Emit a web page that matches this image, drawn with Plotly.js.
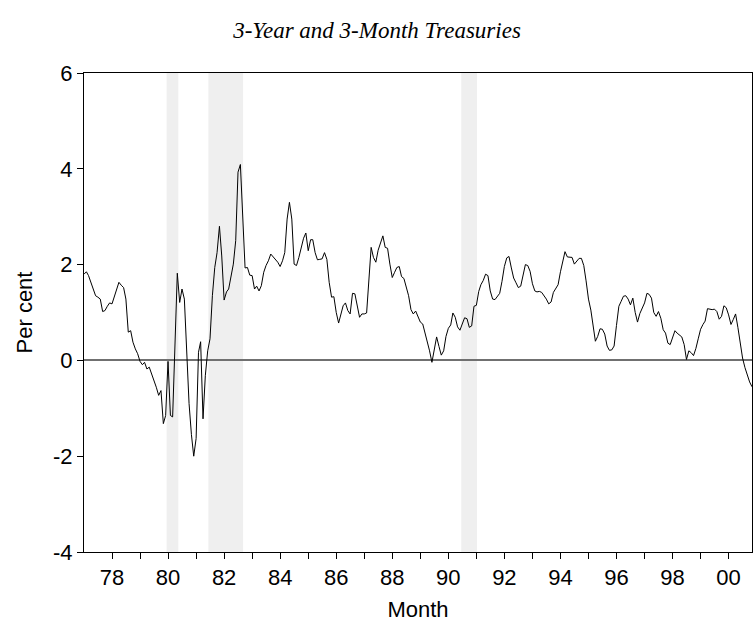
<!DOCTYPE html>
<html>
<head>
<meta charset="utf-8">
<script src="https://cdn.plot.ly/plotly-3.0.1.min.js"></script>
<style>html,body{margin:0;padding:0;background:#fff;}#chart{width:754px;height:629px;}</style>
</head>
<body>
<div id="chart"></div>
<script>
// Monthly spread, 3-year minus 3-month Treasury yield (per cent), 1977M01 onward
const startYear = 1977;
const spread = [
 1.80, 1.85, 1.77, 1.63, 1.49, 1.35, 1.32, 1.28, 1.02, 1.04, 1.13, 1.20,
 1.18, 1.32, 1.49, 1.63, 1.57, 1.52, 1.28, 0.59, 0.62, 0.38, 0.24, 0.14,
 -0.02, -0.09, -0.04, -0.18, -0.14, -0.28, -0.39, -0.56, -0.73, -0.63, -1.32, -1.15,
 -0.02, -1.15, -1.18, 0.25, 1.82, 1.21, 1.49, 1.28, 0.30, -0.90, -1.55, -2.00,
 -1.63, 0.17, 0.39, -1.22, -0.32, 0.20, 0.45, 1.35, 1.94, 2.25, 2.80, 2.18,
 1.26, 1.43, 1.49, 1.73, 2.01, 2.50, 3.93, 4.09, 3.02, 1.93, 1.94, 1.78,
 1.77, 1.49, 1.55, 1.45, 1.56, 1.84, 1.98, 2.08, 2.22, 2.17, 2.11, 2.05,
 1.96, 2.08, 2.25, 2.95, 3.30, 2.95, 2.01, 1.98, 2.15, 2.36, 2.55, 2.66,
 2.29, 2.52, 2.52, 2.25, 2.10, 2.11, 2.12, 2.25, 2.11, 1.63, 1.32, 1.33,
 1.00, 0.78, 0.95, 1.14, 1.20, 1.04, 0.97, 1.40, 1.39, 1.14, 0.90, 0.97,
 0.97, 0.99, 1.70, 2.36, 2.15, 2.05, 2.30, 2.45, 2.60, 2.36, 2.34, 2.01,
 1.73, 1.84, 1.94, 1.96, 1.75, 1.71, 1.55, 1.35, 1.06, 0.97, 1.03, 0.92,
 0.80, 0.76, 0.60, 0.41, 0.20, -0.04, 0.24, 0.49, 0.29, 0.11, 0.20, 0.50,
 0.67, 0.74, 0.99, 0.90, 0.70, 0.63, 0.76, 0.89, 0.87, 0.69, 0.72, 1.13,
 1.15, 1.44, 1.58, 1.67, 1.80, 1.77, 1.45, 1.28, 1.27, 1.33, 1.40, 1.65,
 1.96, 2.14, 2.17, 1.93, 1.72, 1.62, 1.52, 1.55, 1.80, 2.00, 1.98, 1.86,
 1.60, 1.45, 1.43, 1.44, 1.42, 1.36, 1.28, 1.18, 1.22, 1.42, 1.50, 1.58,
 1.85, 2.05, 2.27, 2.16, 2.15, 2.15, 2.01, 2.06, 2.13, 2.13, 1.98, 1.66,
 1.28, 1.05, 0.75, 0.40, 0.50, 0.66, 0.65, 0.55, 0.30, 0.21, 0.22, 0.30,
 0.73, 1.13, 1.23, 1.34, 1.35, 1.28, 1.16, 1.30, 1.00, 0.80, 0.98, 1.08,
 1.20, 1.40, 1.38, 1.30, 1.00, 0.92, 1.02, 0.88, 0.64, 0.57, 0.36, 0.33,
 0.48, 0.62, 0.57, 0.53, 0.49, 0.33, 0.02, 0.20, 0.16, 0.10, 0.25, 0.45,
 0.65, 0.75, 0.82, 1.08, 1.07, 1.06, 1.07, 1.02, 0.86, 0.92, 1.14, 1.10,
 0.95, 0.75, 0.85, 0.97, 0.69, 0.32, 0.05, -0.15, -0.33, -0.45, -0.55
];
// Shaded recession periods
const recessionStart = ['1979-12-14', '1981-06-10', '1990-06-18'];
const recessionEnd   = ['1980-05-14', '1982-09-05', '1991-01-10'];
// Axis ticks
const xTickYears = [1978,1979,1980,1981,1982,1983,1984,1985,1986,1987,1988,1989,1990,1991,1992,1993,1994,1995,1996,1997,1998,1999,2000];
const xTickText  = ['78','','80','','82','','84','','86','','88','','90','','92','','94','','96','','98','','00'];
const yTickVals = [-4,-2,0,2,4,6];
const yTickText = ['-4','-2','0','2','4','6'];

const months = spread.map((_, i) => {
  const y = startYear + Math.floor(i / 12);
  const m = (i % 12) + 1;
  return y + '-' + String(m).padStart(2, '0') + '-01';
});

const shapes = recessionStart.map((s, k) => ({
  type: 'rect', xref: 'x', yref: 'paper', x0: s, x1: recessionEnd[k], y0: 0, y1: 1,
  fillcolor: '#efefef', line: {width: 0}, layer: 'below'
}));

const sans = 'Liberation Sans, Arial, sans-serif';

Plotly.newPlot('chart', [{
  x: months, y: spread, type: 'scatter', mode: 'lines',
  line: {color: '#000000', width: 1}, hoverinfo: 'x+y'
}], {
  width: 754, height: 629,
  margin: {l: 84, r: 2, t: 73, b: 77},
  paper_bgcolor: '#ffffff', plot_bgcolor: '#ffffff',
  showlegend: false,
  title: {text: '3-Year and 3-Month Treasuries', x: 0.5, xanchor: 'center', y: 1 - 30/629, yanchor: 'middle', yref: 'container',
          font: {family: 'Liberation Serif, Times New Roman, serif', size: 23, style: 'italic', color: '#000'}},
  xaxis: {
    type: 'date', range: [months[0], months[months.length - 1]],
    tickmode: 'array', tickvals: xTickYears.map(y => y + '-01-01'), ticktext: xTickText,
    ticks: 'outside', ticklen: 6, tickcolor: '#000', tickwidth: 1,
    showline: true, mirror: true, linecolor: '#000', linewidth: 1,
    showgrid: false, zeroline: false,
    tickfont: {family: sans, size: 22, color: '#000'},
    title: {text: 'Month', font: {family: sans, size: 22, color: '#000'}, standoff: 12}
  },
  yaxis: {
    range: [-4, 6], tickmode: 'array', tickvals: yTickVals, ticktext: yTickText,
    ticks: 'outside', ticklen: 6, tickcolor: '#000', tickwidth: 1,
    showline: true, mirror: true, linecolor: '#000', linewidth: 1,
    showgrid: false, zeroline: true, zerolinecolor: '#707070', zerolinewidth: 2,
    tickfont: {family: sans, size: 22, color: '#000'},
    title: {text: 'Per cent', font: {family: sans, size: 22, color: '#000'}, standoff: 14}
  },
  shapes: shapes
}, {displayModeBar: false, staticPlot: true});
</script>
</body>
</html>
